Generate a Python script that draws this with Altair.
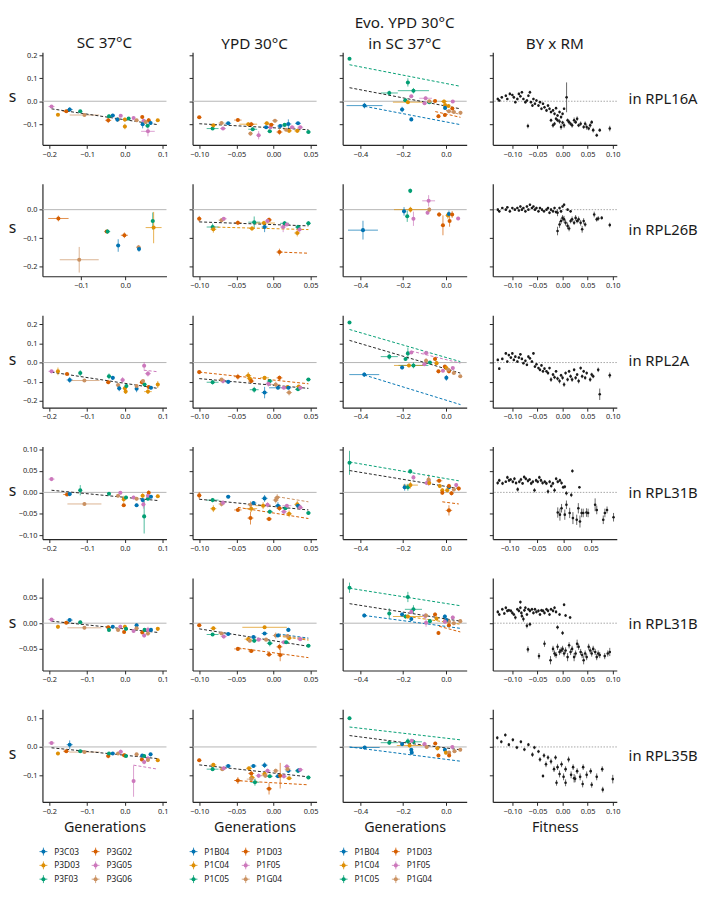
import altair as alt
import pandas as pd

FONT = "Noto Sans"
COLORS = ["#0173b2", "#de8f05", "#029e73", "#d55e00", "#cc78bc", "#ca9161", "#262626"]

COL_TITLES = [["", "SC 37°C"], ["", "YPD 30°C"], ["Evo. YPD 30°C", "in SC 37°C"], ["", "BY x RM"]]
ROW_LABELS = ["in RPL16A", "in RPL26B", "in RPL2A", "in RPL31B", "in RPL31B", "in RPL35B"]
X_TITLES = ["Generations", "Generations", "Generations", "Fitness"]
LEGEND_SC = ["P3C03", "P3D03", "P3F03", "P3G02", "P3G05", "P3G06"]
LEGEND_YPD = ["P1B04", "P1C04", "P1C05", "P1D03", "P1F05", "P1G04"]

# (strain index, x, y, x error, y error)
R1C1 = [(4,-0.194,-0.023,0.008,0.005),(1,-0.177,-0.059,0.004,0.006),(3,-0.155,-0.044,0.010,0.005),
        (0,-0.146,-0.036,0.008,0.010),(2,-0.118,-0.044,0.005,0.006),(5,-0.107,-0.060,0.039,0.005),
        (3,-0.044,-0.083,0.008,0.012),(2,-0.042,-0.065,0.005,0.008),(0,-0.032,-0.062,0.005,0.007),
        (5,-0.018,-0.079,0.006,0.006),(4,-0.011,-0.063,0.004,0.006),(0,-0.020,-0.080,0.004,0.010),
        (1,0.000,-0.080,0.004,0.008),(1,0.000,-0.110,0.004,0.012),(2,0.010,-0.075,0.004,0.006),
        (4,0.023,-0.073,0.004,0.006),(5,0.031,-0.083,0.004,0.006),(3,0.046,-0.069,0.004,0.006),
        (4,0.050,-0.085,0.006,0.008),(0,0.047,-0.100,0.004,0.018),(3,0.063,-0.083,0.004,0.010),
        (2,0.060,-0.107,0.006,0.008),(0,0.068,-0.095,0.004,0.006),(4,0.061,-0.131,0.018,0.022),
        (1,0.087,-0.083,0.004,0.006),(5,0.055,-0.090,0.006,0.006)]
R1C2 = [(3,-0.100,-0.070,0.003,0.006),(2,-0.082,-0.119,0.008,0.006),(1,-0.081,-0.105,0.004,0.006),
        (4,-0.068,-0.119,0.004,0.006),(5,-0.070,-0.095,0.004,0.008),(0,-0.061,-0.096,0.004,0.006),
        (3,-0.048,-0.082,0.005,0.006),(5,-0.031,-0.141,0.003,0.008),(1,-0.034,-0.100,0.012,0.008),
        (3,-0.030,-0.100,0.004,0.010),(2,-0.028,-0.122,0.006,0.008),(4,-0.020,-0.148,0.003,0.018),
        (0,-0.010,-0.113,0.004,0.006),(2,-0.005,-0.131,0.003,0.006),(1,-0.009,-0.096,0.004,0.008),
        (4,-0.004,-0.113,0.004,0.008),(3,-0.003,-0.102,0.004,0.006),(5,0.002,-0.085,0.004,0.008),
        (3,0.008,-0.134,0.004,0.012),(0,0.009,-0.108,0.004,0.006),(2,0.015,-0.103,0.006,0.006),
        (0,0.020,-0.099,0.004,0.020),(1,0.021,-0.129,0.004,0.006),(5,0.017,-0.124,0.004,0.006),
        (4,0.025,-0.113,0.004,0.006),(0,0.033,-0.096,0.004,0.006),(1,0.032,-0.129,0.004,0.006),
        (4,0.036,-0.113,0.004,0.006),(2,0.047,-0.134,0.003,0.006)]
R1C3 = [(2,-0.451,0.185,0.004,0.005),(2,-0.178,0.082,0.008,0.018),(2,-0.152,0.046,0.073,0.012),
        (2,-0.265,0.036,0.040,0.010),(2,-0.078,-0.004,0.010,0.006),(0,-0.381,-0.019,0.084,0.012),
        (0,-0.205,-0.036,0.010,0.012),(0,-0.162,-0.079,0.006,0.008),(2,-0.190,0.004,0.010,0.006),
        (1,-0.178,-0.004,0.070,0.008),(4,-0.162,0.022,0.008,0.006),(4,-0.100,-0.009,0.008,0.006),
        (4,-0.095,0.013,0.030,0.008),(5,-0.078,0.000,0.010,0.006),(3,-0.051,0.001,0.008,0.006),
        (1,-0.009,-0.001,0.015,0.008),(1,-0.004,-0.017,0.008,0.008),(4,0.032,-0.001,0.008,0.006),
        (0,-0.004,-0.029,0.008,0.008),(3,-0.035,-0.065,0.008,0.008),(3,-0.005,-0.060,0.008,0.008),
        (5,0.014,-0.044,0.010,0.008),(5,0.037,-0.047,0.010,0.008),(5,0.068,-0.050,0.008,0.008),
        (3,0.030,-0.032,0.008,0.006),(1,0.012,-0.021,0.008,0.006)]
R2C1 = [(3,-0.151,-0.031,0.023,0.010),(5,-0.104,-0.176,0.044,0.045),(3,-0.042,-0.077,0.005,0.006),
        (2,-0.040,-0.077,0.006,0.008),(3,-0.002,-0.090,0.008,0.010),(0,-0.016,-0.126,0.004,0.022),
        (5,0.030,-0.132,0.005,0.008),(0,0.031,-0.138,0.004,0.010),(2,0.062,-0.040,0.004,0.030),
        (1,0.064,-0.063,0.018,0.055)]
R2C2 = [(3,-0.100,-0.032,0.003,0.010),(2,-0.082,-0.061,0.008,0.012),(1,-0.081,-0.069,0.004,0.012),
        (5,-0.070,-0.037,0.004,0.006),(4,-0.067,-0.032,0.004,0.006),(3,-0.048,-0.046,0.005,0.008),
        (1,-0.029,-0.066,0.004,0.008),(2,-0.026,-0.044,0.008,0.020),(0,-0.012,-0.061,0.004,0.018),
        (1,-0.013,-0.047,0.015,0.008),(3,-0.006,-0.036,0.004,0.008),(4,-0.008,-0.040,0.004,0.008),
        (3,0.008,-0.149,0.004,0.012),(2,0.015,-0.048,0.006,0.008),(4,0.018,-0.052,0.004,0.006),
        (4,0.013,-0.061,0.004,0.018),(1,0.032,-0.082,0.004,0.012),(2,0.033,-0.061,0.004,0.008),
        (4,0.035,-0.070,0.004,0.008),(2,0.047,-0.048,0.003,0.008)]
R2C3 = [(0,-0.388,-0.072,0.070,0.033),(2,-0.167,0.066,0.006,0.008),(0,-0.196,-0.006,0.008,0.015),
        (1,-0.166,0.000,0.077,0.010),(2,-0.181,-0.023,0.006,0.020),(4,-0.152,-0.032,0.006,0.025),
        (4,-0.081,0.031,0.030,0.020),(4,-0.086,-0.011,0.006,0.006),(5,-0.078,0.000,0.008,0.008),
        (3,-0.032,-0.017,0.010,0.008),(3,-0.014,-0.055,0.006,0.035),(1,0.009,-0.020,0.010,0.012),
        (0,0.014,-0.015,0.006,0.012),(3,0.017,-0.040,0.006,0.020),(3,0.029,-0.017,0.006,0.012),
        (4,0.057,-0.031,0.006,0.006)]
R3C1 = [(4,-0.194,-0.046,0.008,0.006),(1,-0.177,-0.046,0.004,0.020),(3,-0.153,-0.060,0.006,0.006),
        (0,-0.146,-0.091,0.008,0.015),(2,-0.118,-0.055,0.005,0.015),(5,-0.107,-0.094,0.040,0.008),
        (3,-0.044,-0.103,0.006,0.010),(2,-0.042,-0.072,0.005,0.015),(0,-0.032,-0.080,0.005,0.010),
        (5,-0.018,-0.118,0.006,0.008),(0,-0.015,-0.135,0.004,0.015),(4,-0.006,-0.091,0.006,0.015),
        (1,0.000,-0.135,0.004,0.012),(1,0.002,-0.152,0.004,0.012),(2,0.004,-0.123,0.004,0.010),
        (0,0.031,-0.137,0.004,0.018),(5,0.031,-0.123,0.004,0.008),(3,0.045,-0.103,0.004,0.010),
        (4,0.051,-0.017,0.004,0.020),(4,0.061,-0.058,0.008,0.015),(3,0.063,-0.128,0.004,0.010),
        (1,0.061,-0.152,0.010,0.012),(2,0.052,-0.115,0.005,0.008),(0,0.069,-0.132,0.004,0.008),
        (1,0.087,-0.115,0.004,0.018),(5,0.048,-0.097,0.005,0.008)]
R3C2 = [(3,-0.100,-0.050,0.003,0.008),(2,-0.082,-0.103,0.008,0.012),(4,-0.068,-0.097,0.004,0.012),
        (5,-0.070,-0.089,0.004,0.008),(0,-0.061,-0.101,0.004,0.008),(3,-0.048,-0.074,0.005,0.015),
        (1,-0.034,-0.068,0.004,0.018),(1,-0.032,-0.084,0.004,0.012),(3,-0.030,-0.097,0.004,0.010),
        (2,-0.026,-0.142,0.006,0.015),(1,-0.012,-0.080,0.006,0.010),(0,-0.012,-0.157,0.004,0.030),
        (2,-0.005,-0.097,0.004,0.008),(4,-0.007,-0.111,0.004,0.015),(3,0.008,-0.080,0.004,0.012),
        (0,0.006,-0.132,0.012,0.008),(5,0.003,-0.115,0.006,0.015),(5,0.021,-0.157,0.004,0.015),
        (1,0.019,-0.128,0.004,0.010),(4,0.014,-0.132,0.004,0.008),(0,0.020,-0.132,0.004,0.008),
        (1,0.034,-0.125,0.004,0.008),(2,0.033,-0.140,0.004,0.008),(4,0.036,-0.132,0.004,0.008),
        (2,0.047,-0.089,0.003,0.008)]
R3C3 = [(2,-0.451,0.210,0.004,0.006),(2,-0.265,0.031,0.040,0.015),(2,-0.178,0.048,0.008,0.030),
        (2,-0.189,0.019,0.006,0.010),(2,-0.152,-0.015,0.070,0.015),(1,-0.173,-0.015,0.070,0.010),
        (0,-0.205,-0.026,0.008,0.010),(0,-0.382,-0.063,0.070,0.012),(4,-0.162,0.053,0.008,0.008),
        (4,-0.093,0.050,0.015,0.012),(5,-0.093,0.009,0.008,0.015),(4,-0.101,-0.009,0.008,0.008),
        (2,-0.075,0.000,0.008,0.008),(3,-0.051,0.019,0.008,0.008),(1,-0.044,-0.003,0.008,0.010),
        (3,-0.035,-0.046,0.008,0.008),(3,-0.005,-0.021,0.008,0.008),(1,0.002,-0.029,0.008,0.008),
        (4,-0.014,-0.043,0.008,0.008),(4,0.032,-0.029,0.008,0.008),(5,0.037,-0.055,0.010,0.008),
        (0,0.002,-0.080,0.006,0.015),(3,0.014,-0.046,0.008,0.008),(5,0.067,-0.072,0.008,0.008),
        (5,0.011,-0.038,0.010,0.008)]
R4C1 = [(4,-0.194,0.031,0.008,0.003),(3,-0.153,-0.005,0.010,0.003),(0,-0.146,-0.004,0.006,0.004),
        (2,-0.118,0.005,0.004,0.012),(5,-0.107,-0.027,0.045,0.004),(2,-0.042,-0.003,0.004,0.003),
        (5,-0.018,-0.008,0.005,0.003),(4,-0.012,-0.001,0.005,0.004),(1,-0.003,-0.016,0.004,0.008),
        (3,-0.003,-0.030,0.005,0.004),(2,0.003,-0.012,0.004,0.004),(4,0.023,-0.012,0.004,0.004),
        (5,0.031,-0.015,0.006,0.004),(0,0.031,-0.030,0.004,0.004),(1,0.047,-0.008,0.005,0.006),
        (2,0.051,-0.056,0.004,0.040),(4,0.049,-0.028,0.005,0.010),(0,0.047,-0.018,0.004,0.004),
        (3,0.063,-0.001,0.004,0.006),(2,0.061,-0.015,0.004,0.004),(4,0.061,-0.008,0.004,0.004),
        (0,0.069,-0.010,0.004,0.004),(1,0.087,-0.009,0.004,0.004)]
R4C2 = [(3,-0.100,-0.007,0.003,0.008),(2,-0.082,-0.018,0.008,0.005),(1,-0.081,-0.038,0.004,0.008),
        (5,-0.070,-0.027,0.004,0.006),(4,-0.068,-0.024,0.004,0.006),(0,-0.061,-0.010,0.003,0.004),
        (3,-0.048,-0.041,0.005,0.004),(3,-0.031,-0.060,0.004,0.015),(1,-0.030,-0.038,0.008,0.008),
        (5,-0.031,-0.029,0.004,0.008),(0,-0.027,-0.025,0.004,0.004),(1,-0.014,-0.031,0.010,0.008),
        (0,-0.012,-0.014,0.004,0.008),(4,-0.008,-0.029,0.004,0.006),(2,-0.005,-0.045,0.004,0.005),
        (3,-0.006,-0.062,0.004,0.005),(5,0.003,-0.018,0.004,0.008),(5,0.005,-0.012,0.004,0.008),
        (0,0.006,-0.031,0.004,0.008),(3,0.008,-0.037,0.004,0.006),(2,0.016,-0.037,0.004,0.004),
        (4,0.014,-0.045,0.004,0.006),(4,0.018,-0.031,0.006,0.004),(1,0.021,-0.050,0.004,0.008),
        (1,0.032,-0.028,0.004,0.008),(0,0.033,-0.031,0.004,0.004),(4,0.036,-0.035,0.004,0.004),
        (2,0.047,-0.048,0.003,0.004)]
R4C3 = [(2,-0.451,0.069,0.004,0.028),(2,-0.167,0.049,0.006,0.005),(4,-0.152,0.035,0.006,0.005),
        (0,-0.193,0.012,0.006,0.008),(2,-0.178,0.012,0.006,0.008),(1,-0.166,0.017,0.035,0.008),
        (4,-0.081,0.027,0.010,0.012),(4,-0.090,0.022,0.006,0.005),(5,-0.081,0.030,0.008,0.012),
        (1,-0.078,0.022,0.008,0.005),(3,-0.032,0.027,0.015,0.005),(1,-0.029,0.015,0.008,0.005),
        (1,-0.017,0.005,0.006,0.005),(3,-0.017,-0.001,0.006,0.005),(0,0.014,0.012,0.006,0.005),
        (3,0.014,0.015,0.006,0.005),(1,0.006,0.005,0.006,0.005),(3,0.026,-0.002,0.006,0.005),
        (5,0.037,0.007,0.008,0.005),(4,0.048,0.017,0.006,0.005),(3,0.060,0.009,0.006,0.005),
        (3,0.014,-0.042,0.015,0.012)]
R5C1 = [(4,-0.194,0.007,0.008,0.003),(1,-0.177,-0.007,0.004,0.004),(3,-0.155,0.001,0.008,0.003),
        (0,-0.146,0.006,0.008,0.004),(2,-0.118,0.002,0.005,0.003),(5,-0.107,-0.009,0.045,0.003),
        (3,-0.044,-0.008,0.005,0.003),(2,-0.042,-0.013,0.004,0.003),(0,-0.032,-0.007,0.004,0.003),
        (5,-0.018,-0.013,0.006,0.003),(4,-0.012,-0.007,0.004,0.004),(1,0.000,-0.007,0.004,0.004),
        (3,-0.002,-0.017,0.004,0.003),(2,0.003,-0.011,0.004,0.003),(4,0.023,-0.015,0.004,0.003),
        (0,0.031,-0.004,0.004,0.003),(5,0.031,-0.010,0.005,0.003),(3,0.046,-0.018,0.004,0.003),
        (2,0.052,-0.013,0.004,0.003),(4,0.051,-0.024,0.005,0.004),(5,0.061,-0.020,0.006,0.004),
        (4,0.061,-0.013,0.004,0.006),(0,0.069,-0.013,0.004,0.003),(1,0.087,-0.011,0.004,0.003)]
R5C2 = [(3,-0.100,-0.004,0.003,0.003),(1,-0.081,-0.010,0.004,0.004),(2,-0.082,-0.022,0.008,0.003),
        (5,-0.070,-0.020,0.004,0.003),(4,-0.067,-0.026,0.004,0.004),(0,-0.061,-0.021,0.004,0.003),
        (3,-0.048,-0.050,0.005,0.003),(1,-0.034,-0.031,0.005,0.004),(3,-0.030,-0.054,0.004,0.004),
        (5,-0.032,-0.034,0.004,0.004),(0,-0.027,-0.027,0.004,0.003),(2,-0.026,-0.034,0.004,0.004),
        (4,-0.020,-0.032,0.004,0.003),(1,-0.012,-0.008,0.030,0.003),(0,-0.012,-0.020,0.004,0.003),
        (5,-0.010,-0.032,0.004,0.003),(2,-0.005,-0.039,0.004,0.006),(3,-0.006,-0.061,0.004,0.004),
        (5,0.003,-0.024,0.004,0.006),(0,0.006,-0.024,0.004,0.003),(3,0.008,-0.046,0.004,0.006),
        (3,0.009,-0.062,0.004,0.012),(4,0.014,-0.037,0.004,0.003),(2,0.017,-0.037,0.004,0.003),
        (0,0.020,-0.013,0.003,0.004),(1,0.021,-0.029,0.004,0.004),(5,0.019,-0.025,0.004,0.004),
        (4,0.036,-0.031,0.004,0.003),(2,0.047,-0.044,0.003,0.003)]
R5C3 = [(2,-0.451,0.069,0.004,0.010),(2,-0.178,0.051,0.006,0.010),(2,-0.152,0.027,0.040,0.008),
        (2,-0.265,0.019,0.006,0.010),(0,-0.382,0.015,0.006,0.004),(0,-0.205,0.017,0.008,0.004),
        (0,-0.162,0.008,0.006,0.004),(2,-0.189,0.013,0.008,0.004),(1,-0.178,0.013,0.070,0.004),
        (4,-0.162,0.022,0.006,0.004),(4,-0.097,0.014,0.010,0.006),(4,-0.093,0.001,0.008,0.008),
        (5,-0.093,0.015,0.010,0.004),(2,-0.075,0.004,0.008,0.004),(3,-0.051,0.017,0.008,0.004),
        (1,-0.044,0.009,0.008,0.004),(3,-0.035,-0.019,0.006,0.004),(0,-0.005,0.013,0.006,0.004),
        (1,-0.005,0.004,0.006,0.004),(4,0.032,0.011,0.008,0.004),(5,0.014,0.003,0.008,0.004),
        (5,0.037,0.000,0.010,0.004),(5,0.067,0.004,0.008,0.004),(3,0.014,-0.004,0.006,0.004),
        (0,0.002,0.006,0.006,0.004),(4,-0.005,0.003,0.006,0.004)]
R6C1 = [(4,-0.194,0.014,0.008,0.005),(1,-0.177,-0.023,0.004,0.006),(3,-0.155,-0.015,0.008,0.005),
        (0,-0.146,0.008,0.008,0.015),(2,-0.118,-0.015,0.005,0.005),(5,-0.107,-0.018,0.040,0.005),
        (3,-0.044,-0.032,0.006,0.008),(2,-0.042,-0.023,0.004,0.005),(0,-0.032,-0.023,0.004,0.005),
        (5,-0.018,-0.023,0.006,0.005),(4,-0.011,-0.017,0.006,0.008),(1,0.000,-0.030,0.004,0.006),
        (3,-0.002,-0.029,0.004,0.005),(2,0.003,-0.032,0.004,0.005),(5,0.031,-0.026,0.004,0.005),
        (4,0.023,-0.120,0.004,0.055),(3,0.045,-0.044,0.004,0.006),(4,0.051,-0.053,0.005,0.008),
        (0,0.046,-0.030,0.004,0.005),(2,0.051,-0.032,0.004,0.005),(4,0.061,-0.041,0.006,0.010),
        (5,0.061,-0.046,0.005,0.006),(0,0.068,-0.026,0.004,0.005),(1,0.087,-0.047,0.004,0.006)]
R6C2 = [(3,-0.100,-0.047,0.003,0.006),(1,-0.081,-0.063,0.004,0.006),(2,-0.082,-0.078,0.008,0.006),
        (5,-0.069,-0.078,0.004,0.006),(4,-0.067,-0.075,0.004,0.008),(0,-0.061,-0.067,0.004,0.006),
        (1,-0.033,-0.075,0.004,0.006),(3,-0.048,-0.118,0.005,0.012),(3,-0.030,-0.093,0.004,0.010),
        (1,-0.029,-0.107,0.004,0.010),(5,-0.030,-0.113,0.006,0.010),(0,-0.027,-0.067,0.004,0.006),
        (2,-0.025,-0.124,0.006,0.012),(4,-0.020,-0.101,0.004,0.008),(0,-0.012,-0.064,0.004,0.010),
        (1,-0.012,-0.095,0.004,0.010),(5,-0.011,-0.101,0.006,0.008),(4,-0.008,-0.084,0.004,0.008),
        (2,-0.005,-0.103,0.004,0.006),(3,-0.006,-0.147,0.004,0.020),(5,0.003,-0.084,0.004,0.008),
        (0,0.006,-0.103,0.004,0.006),(3,0.009,-0.101,0.004,0.045),(4,0.014,-0.103,0.004,0.008),
        (4,0.018,-0.069,0.004,0.008),(0,0.020,-0.084,0.004,0.006),(1,0.021,-0.110,0.004,0.006),
        (5,0.019,-0.078,0.004,0.006),(2,0.033,-0.084,0.004,0.006),(0,0.034,-0.082,0.004,0.006),
        (4,0.036,-0.080,0.004,0.006),(2,0.047,-0.107,0.003,0.006)]
R6C3 = [(2,-0.451,0.101,0.004,0.006),(0,-0.380,-0.002,0.070,0.006),(2,-0.265,0.015,0.040,0.008),
        (2,-0.178,0.020,0.008,0.010),(2,-0.152,0.018,0.040,0.008),(0,-0.205,0.010,0.008,0.006),
        (0,-0.162,-0.010,0.006,0.006),(1,-0.170,0.005,0.060,0.006),(4,-0.160,0.022,0.006,0.006),
        (4,-0.100,0.010,0.010,0.008),(5,-0.090,0.000,0.010,0.006),(3,-0.050,0.012,0.008,0.006),
        (1,-0.040,-0.005,0.008,0.006),(3,-0.035,-0.030,0.006,0.006),(0,-0.005,-0.010,0.006,0.006),
        (1,0.000,-0.020,0.006,0.006),(4,0.030,0.000,0.008,0.006),(5,0.015,-0.020,0.008,0.006),
        (5,0.040,-0.015,0.010,0.006),(5,0.067,-0.010,0.008,0.006),(3,0.015,-0.030,0.006,0.006),
        (0,-0.160,-0.020,0.006,0.006)]

# regression lines: (strain index, 6 = all strains; x1, y1, x2, y2)
L1C1 = [(6,-0.194,-0.033,0.087,-0.102)]
L1C2 = [(6,-0.100,-0.098,0.047,-0.124)]
L1C3 = [(2,-0.451,0.159,0.068,0.065),(6,-0.451,0.059,0.068,-0.033),(0,-0.381,-0.022,0.068,-0.102),
        (3,-0.050,-0.045,0.068,-0.070),(5,0.000,-0.040,0.068,-0.058)]
L2C1 = []
L2C2 = [(6,-0.100,-0.043,0.047,-0.057),(1,-0.082,-0.061,0.047,-0.070),(3,0.008,-0.149,0.047,-0.153)]
L2C3 = []
L3C1 = [(6,-0.194,-0.050,0.087,-0.135),(4,0.050,-0.040,0.087,-0.048)]
L3C2 = [(6,-0.100,-0.084,0.047,-0.135),(3,-0.100,-0.050,0.047,-0.111)]
L3C3 = [(2,-0.451,0.173,0.067,0.005),(6,-0.451,0.116,0.067,-0.055),(0,-0.382,-0.065,0.068,-0.220),
        (4,-0.162,0.060,0.067,-0.003)]
L4C1 = [(6,-0.194,0.005,0.087,-0.019)]
L4C2 = [(6,-0.100,-0.016,0.047,-0.041),(3,-0.048,-0.035,0.047,-0.061),(5,0.005,-0.010,0.047,-0.022)]
L4C3 = [(2,-0.451,0.071,0.060,0.027),(6,-0.451,0.051,0.060,0.009),(3,-0.017,-0.022,0.060,-0.027)]
L5C1 = [(6,-0.194,0.004,0.087,-0.018)]
L5C2 = [(6,-0.100,-0.011,0.047,-0.045),(3,-0.048,-0.048,0.047,-0.067),(0,0.006,-0.021,0.047,-0.029),
        (1,0.006,-0.025,0.047,-0.033),(5,0.006,-0.023,0.047,-0.031)]
L5C3 = [(2,-0.451,0.068,0.067,0.034),(6,-0.451,0.038,0.067,0.004),(0,-0.382,0.015,0.067,-0.010),
        (3,-0.032,-0.006,0.067,-0.017),(1,-0.178,0.013,0.067,-0.002)]
L6C1 = [(6,-0.194,-0.003,0.087,-0.041),(4,0.023,-0.064,0.087,-0.078)]
L6C2 = [(6,-0.100,-0.063,0.047,-0.105),(3,-0.052,-0.118,0.047,-0.133)]
L6C3 = [(2,-0.451,0.070,0.067,0.025),(6,-0.451,0.040,0.067,-0.010),(0,-0.451,0.000,0.067,-0.050)]

# BY x RM segregants: (fitness, s, error of s)
B1 = [(-0.129,0.010,0.006),(-0.126,0.003,0.005),(-0.121,0.017,0.005),(-0.113,0.024,0.006),(-0.110,0.010,0.005),
      (-0.105,0.032,0.006),(-0.100,0.027,0.005),(-0.097,0.017,0.006),(-0.094,-0.004,0.005),(-0.090,0.010,0.006),
      (-0.087,0.032,0.005),(-0.084,0.022,0.006),(-0.081,0.039,0.006),(-0.078,0.010,0.005),(-0.074,-0.004,0.006),
      (-0.071,0.003,0.005),(-0.068,0.024,0.006),(-0.065,0.039,0.007),(-0.063,-0.004,0.005),(-0.060,-0.019,0.006),
      (-0.058,0.010,0.005),(-0.055,-0.011,0.006),(-0.052,0.003,0.005),(-0.048,-0.019,0.006),(-0.045,-0.004,0.005),
      (-0.042,-0.033,0.006),(-0.039,-0.011,0.005),(-0.036,-0.026,0.006),(-0.032,-0.040,0.007),(-0.029,-0.019,0.005),
      (-0.026,-0.033,0.006),(-0.023,-0.047,0.006),(-0.019,-0.040,0.005),(-0.016,-0.055,0.006),(-0.013,-0.030,0.005),
      (-0.010,-0.062,0.006),(-0.006,-0.047,0.006),(-0.003,-0.069,0.007),(0.000,-0.055,0.006),(0.003,-0.033,0.005),
      (0.008,0.017,0.065),(-0.023,-0.083,0.008),(-0.019,-0.105,0.010),(-0.016,-0.098,0.008),(-0.013,-0.076,0.007),
      (-0.010,-0.083,0.008),(-0.006,-0.088,0.010),(-0.003,-0.112,0.012),(0.000,-0.093,0.008),(0.003,-0.105,0.012),
      (0.010,-0.083,0.008),(0.013,-0.091,0.010),(0.016,-0.098,0.008),(0.019,-0.105,0.010),(0.023,-0.083,0.012),
      (0.026,-0.091,0.008),(0.029,-0.076,0.010),(0.032,-0.105,0.008),(0.036,-0.098,0.010),(0.042,-0.112,0.008),
      (0.045,-0.098,0.010),(0.048,-0.112,0.012),(0.052,-0.119,0.008),(0.055,-0.105,0.010),(0.058,-0.091,0.008),
      (0.061,-0.126,0.010),(0.068,-0.148,0.008),(0.074,-0.126,0.008),(0.094,-0.119,0.012),(-0.069,-0.108,0.010)]
B2 = [(-0.129,0.000,0.004),(-0.126,-0.006,0.004),(-0.120,0.006,0.003),(-0.113,0.000,0.004),(-0.110,0.008,0.003),
      (-0.105,-0.006,0.004),(-0.100,0.006,0.003),(-0.095,0.000,0.004),(-0.090,0.006,0.004),(-0.087,-0.003,0.003),
      (-0.084,0.011,0.004),(-0.081,0.000,0.004),(-0.078,0.006,0.003),(-0.074,-0.006,0.004),(-0.071,0.011,0.004),
      (-0.068,0.000,0.003),(-0.065,0.017,0.004),(-0.061,0.006,0.004),(-0.058,0.011,0.003),(-0.055,0.000,0.004),
      (-0.052,0.006,0.004),(-0.048,-0.006,0.003),(-0.045,0.006,0.004),(-0.041,0.000,0.004),(-0.037,-0.006,0.003),
      (-0.032,0.000,0.004),(-0.029,0.006,0.004),(-0.026,-0.011,0.005),(-0.023,0.000,0.004),(-0.019,-0.006,0.004),
      (-0.016,0.006,0.004),(-0.013,-0.008,0.005),(-0.010,-0.011,0.012),(-0.006,0.006,0.004),(-0.003,-0.006,0.005),
      (0.000,0.011,0.004),(0.003,0.017,0.005),(0.010,0.000,0.004),(0.016,-0.006,0.004),(-0.010,-0.075,0.015),
      (-0.006,-0.052,0.012),(-0.003,-0.040,0.010),(0.000,-0.029,0.010),(0.003,-0.034,0.012),(0.006,-0.046,0.010),
      (0.010,-0.057,0.012),(0.013,-0.066,0.010),(0.016,-0.040,0.008),(0.019,-0.034,0.010),(0.023,-0.046,0.008),
      (0.026,-0.029,0.010),(0.029,-0.040,0.008),(0.032,-0.034,0.010),(0.036,-0.046,0.010),(0.039,-0.069,0.012),
      (0.042,-0.040,0.010),(0.045,-0.052,0.008),(0.063,-0.017,0.010),(0.068,-0.034,0.008),(0.071,-0.031,0.008),
      (0.078,-0.029,0.006),(0.094,-0.054,0.008)]
B3 = [(-0.129,0.014,0.006),(-0.126,-0.032,0.006),(-0.120,0.019,0.006),(-0.113,0.048,0.007),(-0.110,0.005,0.006),
      (-0.107,0.039,0.006),(-0.103,0.026,0.006),(-0.100,0.048,0.007),(-0.097,0.014,0.006),(-0.094,0.031,0.006),
      (-0.090,0.005,0.006),(-0.087,0.026,0.006),(-0.084,0.043,0.007),(-0.081,0.019,0.006),(-0.078,-0.003,0.006),
      (-0.074,0.009,0.006),(-0.071,-0.012,0.006),(-0.068,0.031,0.006),(-0.065,0.022,0.006),(-0.061,0.005,0.006),
      (-0.058,0.048,0.007),(-0.055,-0.021,0.006),(-0.052,-0.009,0.006),(-0.048,-0.029,0.006),(-0.045,-0.038,0.007),
      (-0.042,-0.015,0.006),(-0.039,-0.046,0.007),(-0.036,-0.032,0.006),(-0.032,-0.046,0.007),(-0.029,-0.055,0.008),
      (-0.026,-0.029,0.006),(-0.023,-0.089,0.012),(-0.019,-0.063,0.008),(-0.016,-0.077,0.010),(-0.013,-0.046,0.007),
      (-0.010,-0.084,0.010),(-0.006,-0.097,0.012),(-0.003,-0.067,0.008),(0.000,-0.080,0.010),(0.003,-0.115,0.012),
      (0.006,-0.055,0.008),(0.010,-0.089,0.010),(0.013,-0.046,0.008),(0.016,-0.072,0.010),(0.019,-0.089,0.012),
      (0.023,-0.038,0.008),(0.026,-0.080,0.010),(0.029,-0.063,0.008),(0.032,-0.097,0.012),(0.036,-0.029,0.008),
      (0.039,-0.072,0.010),(0.042,-0.046,0.008),(0.045,-0.080,0.010),(0.048,-0.055,0.008),(0.055,-0.089,0.012),
      (0.058,-0.063,0.010),(0.061,-0.072,0.010),(0.071,-0.038,0.012),(0.074,-0.166,0.030),(0.094,-0.067,0.015)]
B4 = [(-0.122,0.022,0.004),(-0.119,0.028,0.004),(-0.113,0.021,0.004),(-0.107,0.025,0.003),(-0.104,0.035,0.004),
      (-0.101,0.028,0.004),(-0.098,0.030,0.003),(-0.094,0.025,0.004),(-0.091,0.032,0.004),(-0.088,0.022,0.004),
      (-0.085,0.007,0.005),(-0.082,0.025,0.004),(-0.079,0.030,0.004),(-0.076,0.021,0.003),(-0.073,0.036,0.004),
      (-0.070,0.032,0.004),(-0.066,0.027,0.004),(-0.063,0.030,0.003),(-0.060,0.021,0.004),(-0.057,0.025,0.004),
      (-0.054,0.005,0.005),(-0.051,0.028,0.004),(-0.048,0.025,0.004),(-0.045,0.035,0.004),(-0.042,0.028,0.004),
      (-0.039,0.022,0.004),(-0.035,0.025,0.004),(-0.032,0.021,0.004),(-0.029,0.002,0.005),(-0.026,0.025,0.004),
      (-0.023,0.015,0.004),(-0.020,0.021,0.004),(-0.017,0.005,0.005),(-0.014,0.032,0.004),(-0.011,0.025,0.004),
      (-0.007,0.028,0.004),(-0.004,0.022,0.004),(-0.001,0.012,0.004),(0.002,0.013,0.004),(0.005,-0.002,0.005),
      (0.014,-0.006,0.005),(0.016,0.050,0.004),(0.029,0.012,0.003),
      (-0.011,-0.047,0.012),(-0.007,-0.052,0.014),(-0.004,-0.037,0.010),(0.002,-0.052,0.012),(0.005,-0.029,0.010),
      (0.011,-0.048,0.012),(0.017,-0.060,0.014),(0.024,-0.064,0.012),(0.027,-0.037,0.012),(0.030,-0.068,0.014),
      (0.033,-0.048,0.010),(0.036,-0.048,0.010),(0.042,-0.047,0.010),(0.045,-0.048,0.010),(0.058,-0.029,0.015),
      (0.061,-0.041,0.010),(0.073,-0.064,0.010),(0.076,-0.048,0.010),(0.080,-0.041,0.008),(0.092,-0.058,0.010)]
B5 = [(-0.129,0.022,0.003),(-0.126,0.017,0.003),(-0.120,0.027,0.003),(-0.116,0.019,0.003),(-0.113,0.030,0.003),
      (-0.110,0.024,0.003),(-0.107,0.025,0.003),(-0.103,0.024,0.003),(-0.100,0.020,0.003),(-0.097,0.017,0.003),
      (-0.094,0.011,0.004),(-0.090,0.027,0.003),(-0.087,0.024,0.003),(-0.084,0.030,0.003),(-0.081,0.014,0.004),
      (-0.078,0.008,0.005),(-0.074,0.030,0.003),(-0.071,0.017,0.003),(-0.068,0.027,0.003),(-0.065,0.024,0.003),
      (-0.061,0.027,0.003),(-0.058,0.020,0.003),(-0.055,0.027,0.003),(-0.052,0.022,0.003),(-0.048,0.024,0.003),
      (-0.045,0.017,0.003),(-0.042,0.025,0.003),(-0.039,0.024,0.003),(-0.036,0.020,0.003),(-0.032,0.027,0.003),
      (-0.029,0.024,0.003),(-0.026,0.017,0.003),(-0.023,0.027,0.003),(-0.019,0.024,0.003),(-0.016,0.030,0.003),
      (-0.013,0.022,0.003),(-0.010,-0.008,0.004),(-0.006,0.017,0.003),(0.000,-0.019,0.004),(0.003,0.036,0.003),
      (0.006,0.015,0.003),(0.015,0.011,0.003),(-0.071,-0.005,0.005),(-0.065,-0.002,0.004),(-0.084,0.041,0.003),
      (-0.082,0.020,0.003),(-0.076,0.025,0.003),
      (-0.069,-0.051,0.006),(-0.047,-0.064,0.006),(-0.036,-0.040,0.006),(-0.024,-0.072,0.008),(-0.019,-0.050,0.006),
      (-0.016,-0.059,0.006),(-0.013,-0.062,0.006),(-0.010,-0.046,0.006),(-0.006,-0.056,0.006),(-0.003,-0.053,0.006),
      (0.000,-0.050,0.006),(0.003,-0.059,0.006),(0.006,-0.053,0.006),(0.010,-0.066,0.008),(0.013,-0.043,0.006),
      (0.016,-0.056,0.006),(0.019,-0.050,0.006),(0.023,-0.066,0.008),(0.026,-0.059,0.006),(0.029,-0.040,0.008),
      (0.032,-0.046,0.006),(0.036,-0.056,0.006),(0.039,-0.062,0.006),(0.042,-0.072,0.008),(0.045,-0.059,0.006),
      (0.048,-0.066,0.006),(0.052,-0.046,0.006),(0.055,-0.053,0.006),(0.058,-0.059,0.006),(0.061,-0.050,0.006),
      (0.065,-0.056,0.006),(0.068,-0.066,0.006),(0.071,-0.059,0.006),(0.074,-0.062,0.006),(0.084,-0.064,0.006),
      (0.090,-0.059,0.006),(0.094,-0.056,0.008)]
B6 = [(-0.130,0.032,0.006),(-0.122,0.018,0.006),(-0.114,0.042,0.006),(-0.107,0.008,0.006),(-0.099,0.025,0.006),
      (-0.091,-0.002,0.006),(-0.083,0.018,0.006),(-0.076,-0.009,0.006),(-0.068,0.008,0.006),(-0.060,-0.027,0.008),
      (-0.056,-0.002,0.006),(-0.048,-0.016,0.006),(-0.045,-0.044,0.008),(-0.037,-0.030,0.008),(-0.033,-0.061,0.010),
      (-0.029,-0.037,0.008),(-0.023,-0.051,0.010),(-0.017,-0.078,0.010),(-0.014,-0.037,0.008),(-0.010,-0.071,0.010),
      (-0.006,-0.095,0.012),(-0.002,-0.061,0.010),(0.002,-0.105,0.012),(0.006,-0.078,0.010),(0.012,-0.044,0.010),
      (0.017,-0.098,0.012),(0.021,-0.071,0.010),(0.025,-0.112,0.012),(0.029,-0.085,0.010),(0.035,-0.105,0.012),
      (0.041,-0.071,0.010),(0.048,-0.098,0.012),(0.056,-0.085,0.010),(0.068,-0.105,0.012),(0.079,-0.078,0.010),
      (-0.039,-0.102,0.006),(-0.012,-0.126,0.010),(0.006,-0.126,0.012),(0.023,-0.110,0.015),(0.040,-0.130,0.012),
      (0.058,-0.133,0.010),(0.080,-0.150,0.010),(0.100,-0.113,0.015)]

POINTS = [[R1C1, R1C2, R1C3], [R2C1, R2C2, R2C3], [R3C1, R3C2, R3C3],
          [R4C1, R4C2, R4C3], [R5C1, R5C2, R5C3], [R6C1, R6C2, R6C3]]
LINES = [[L1C1, L1C2, L1C3], [L2C1, L2C2, L2C3], [L3C1, L3C2, L3C3],
         [L4C1, L4C2, L4C3], [L5C1, L5C2, L5C3], [L6C1, L6C2, L6C3]]
BYRM = [B1, B2, B3, B4, B5, B6]

Y_DOMAINS = [[-0.19, 0.213], [-0.234, 0.091], [-0.236, 0.248], [-0.109, 0.107], [-0.092, 0.088], [-0.193, 0.132]]
Y_TICKS = [[-0.1, 0.0, 0.1, 0.2], [-0.2, -0.1, 0.0], [-0.2, -0.1, 0.0, 0.1, 0.2],
           [-0.10, -0.05, 0.0, 0.05, 0.10], [-0.05, 0.0, 0.05], [-0.1, 0.0, 0.1]]
Y_FMT = [".1f", ".1f", ".1f", ".2f", ".2f", ".1f"]

XD_C1 = [-0.218, 0.110]
XD_C1B = [-0.187, 0.093]
XD_C2 = [-0.109, 0.058]
XD_C3 = [-0.483, 0.097]
XD_C4 = [-0.139, 0.108]
XD_C4B = [-0.131, 0.098]
X_DOMAINS = [[XD_C1, XD_C2, XD_C3, XD_C4], [XD_C1B, XD_C2, XD_C3, XD_C4], [XD_C1, XD_C2, XD_C3, XD_C4],
             [XD_C1, XD_C2, XD_C3, XD_C4B], [XD_C1, XD_C2, XD_C3, XD_C4], [XD_C1, XD_C2, XD_C3, XD_C4]]
XT_C1 = [-0.2, -0.1, 0.0, 0.1]
XT_C1B = [-0.1, 0.0]
XT_C2 = [-0.10, -0.05, 0.0, 0.05]
XT_C3 = [-0.4, -0.2, 0.0]
XT_C4 = [-0.10, -0.05, 0.0, 0.05, 0.10]
XT_C4B = [-0.10, -0.05, 0.0, 0.05]
X_TICKS = [[XT_C1, XT_C2, XT_C3, XT_C4], [XT_C1B, XT_C2, XT_C3, XT_C4], [XT_C1, XT_C2, XT_C3, XT_C4],
           [XT_C1, XT_C2, XT_C3, XT_C4B], [XT_C1, XT_C2, XT_C3, XT_C4], [XT_C1, XT_C2, XT_C3, XT_C4]]
X_FMT = [".1f", ".2f", ".1f", ".2f"]

W, H = 126, 94
TXT = "#1a1a1a"


def points_frame(rows):
    return pd.DataFrame({
        "x": [r[1] for r in rows], "y": [r[2] for r in rows],
        "xlo": [r[1] - r[3] for r in rows], "xhi": [r[1] + r[3] for r in rows],
        "ylo": [r[2] - r[4] for r in rows], "yhi": [r[2] + r[4] for r in rows],
        "c": [COLORS[r[0]] for r in rows]})


def lines_frame(rows):
    return pd.DataFrame({
        "x1": [r[1] for r in rows], "y1": [r[2] for r in rows],
        "x2": [r[3] for r in rows], "y2": [r[4] for r in rows],
        "c": [COLORS[r[0]] for r in rows]})


def panel(r, c):
    xs = alt.Scale(domain=X_DOMAINS[r][c], nice=False, zero=False)
    ys = alt.Scale(domain=Y_DOMAINS[r], nice=False, zero=False)
    last = r == 5
    if last:
        xax = alt.Axis(values=X_TICKS[r][c], format=X_FMT[c], title=X_TITLES[c],
                       titleFontSize=14.5, titlePadding=6)
    else:
        xax = alt.Axis(values=X_TICKS[r][c], format=X_FMT[c], title=None)
    if c == 0:
        yax = alt.Axis(values=Y_TICKS[r], format=Y_FMT[r], title="s", titleAngle=0,
                       titleFontSize=16, titleAlign="center", titleBaseline="middle",
                       titleX=-31, titleY=H / 2 - 2)
    else:
        yax = alt.Axis(values=Y_TICKS[r], labels=False, title=None)
    col = alt.Color("c:N", scale=None)
    layers = []
    if c < 3:
        layers.append(alt.Chart(pd.DataFrame({"v": [0.0]})).mark_rule(color="#b5b5b5", strokeWidth=1)
                      .encode(y=alt.Y("v:Q", scale=ys, axis=yax)))
        pf = points_frame(POINTS[r][c])
        base = alt.Chart(pf)
        layers.append(base.mark_rule(strokeWidth=1, opacity=0.7, clip=True).encode(
            x=alt.X("xlo:Q", scale=xs, axis=xax), x2="xhi:Q", y=alt.Y("y:Q", scale=ys, axis=yax), color=col))
        layers.append(base.mark_rule(strokeWidth=1, opacity=0.7, clip=True).encode(
            x=alt.X("x:Q", scale=xs, axis=xax), y=alt.Y("ylo:Q", scale=ys, axis=yax), y2="yhi:Q", color=col))
        if LINES[r][c]:
            lf = lines_frame(LINES[r][c])
            layers.append(alt.Chart(lf).mark_rule(strokeWidth=1, strokeDash=[3, 2], clip=True).encode(
                x=alt.X("x1:Q", scale=xs, axis=xax), x2="x2:Q",
                y=alt.Y("y1:Q", scale=ys, axis=yax), y2="y2:Q", color=col))
        layers.append(base.mark_circle(size=17, opacity=1).encode(
            x=alt.X("x:Q", scale=xs, axis=xax), y=alt.Y("y:Q", scale=ys, axis=yax), color=col))
    else:
        rows = BYRM[r]
        bf = pd.DataFrame({"x": [p[0] for p in rows], "y": [p[1] for p in rows],
                           "ylo": [p[1] - p[2] for p in rows], "yhi": [p[1] + p[2] for p in rows]})
        layers.append(alt.Chart(pd.DataFrame({"v": [0.0]})).mark_rule(
            color="#9a9a9a", strokeWidth=0.9, strokeDash=[1.5, 1.5])
            .encode(y=alt.Y("v:Q", scale=ys, axis=yax)))
        base = alt.Chart(bf)
        layers.append(base.mark_rule(strokeWidth=1, color="#333333", opacity=0.75, clip=True).encode(
            x=alt.X("x:Q", scale=xs, axis=xax), y=alt.Y("ylo:Q", scale=ys, axis=yax), y2="yhi:Q"))
        layers.append(base.mark_circle(size=7, opacity=1, color="#1a1a1a").encode(
            x=alt.X("x:Q", scale=xs, axis=xax), y=alt.Y("y:Q", scale=ys, axis=yax)))
        layers.append(alt.Chart(pd.DataFrame({"t": [ROW_LABELS[r]]})).mark_text(
            align="left", baseline="middle", fontSize=15, font=FONT, color=TXT)
            .encode(x=alt.value(W + 12), y=alt.value(H / 2), text="t:N"))
    ch = alt.layer(*layers)
    if r == 0:
        ch = ch.properties(width=W, height=H, title=alt.TitleParams(
            text=COL_TITLES[c], fontSize=15.5, font=FONT, fontWeight="normal", lineHeight=21,
            offset=0, color=TXT))
    else:
        ch = ch.properties(width=W, height=H)
    return ch


def legend_cell(names):
    df = pd.DataFrame({"name": names, "lc": [0, 0, 0, 1, 1, 1], "lr": [0, 1, 2, 0, 1, 2], "c": COLORS[:6]})
    xs = alt.Scale(domain=[0, 1], range=[1, 54])
    ys = alt.Scale(domain=[0, 2], range=[11, 39])
    ex = alt.X("lc:Q", scale=xs, axis=None)
    ey = alt.Y("lr:Q", scale=ys, axis=None)
    col = alt.Color("c:N", scale=None)
    cross = alt.Chart(df).mark_point(shape="M-1,0L1,0M0,-1L0,1", filled=False, size=64,
                                     strokeWidth=1, opacity=0.8).encode(x=ex, y=ey, color=col)
    dot = alt.Chart(df).mark_circle(size=17, opacity=1).encode(x=ex, y=ey, color=col)
    txt = alt.Chart(df).mark_text(align="left", baseline="middle", dx=11, fontSize=8.5,
                                  font=FONT, color=TXT).encode(x=ex, y=ey, text="name:N")
    return alt.layer(cross, dot, txt).properties(width=W, height=45)


cells = []
for r in range(6):
    for c in range(4):
        cells.append(panel(r, c))
cells.append(legend_cell(LEGEND_SC))
cells.append(legend_cell(LEGEND_YPD))
cells.append(legend_cell(LEGEND_YPD))

chart = alt.concat(*cells, columns=4, spacing={"row": 39.5, "column": 26.5}, bounds="flush").properties(
    padding={"left": 0, "top": 0, "right": 0, "bottom": 0}
).configure_view(stroke=None).configure_axis(
    labelFont=FONT, labelFontSize=7.5, labelColor="#262626", tickColor="#262626",
    domainColor="#262626", domainWidth=1.2, tickWidth=1, tickSize=3.5, labelPadding=2,
    grid=False, titleFont=FONT, titleFontWeight="normal", titleColor=TXT
)

chart.save("out.html", embed_options={"renderer": "svg", "actions": False})
